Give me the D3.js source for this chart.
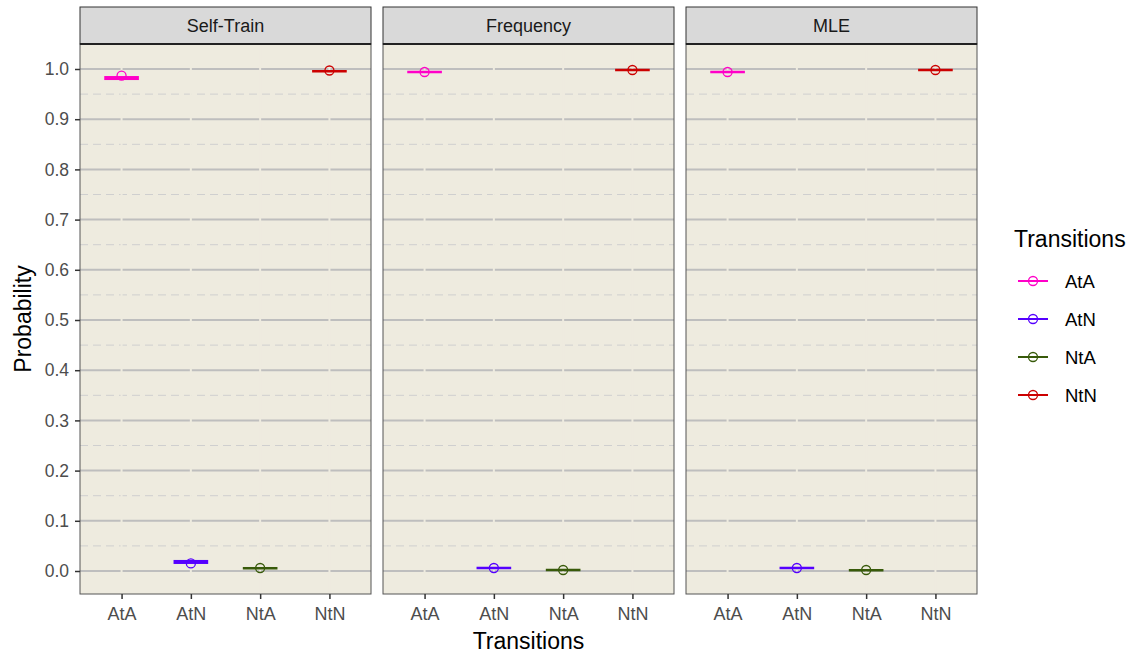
<!DOCTYPE html>
<html>
<head>
<meta charset="utf-8">
<script src="https://cdn.jsdelivr.net/npm/d3@7"></script>
<style>
  body { margin: 0; background: #fff; }
  text { font-family: "Liberation Sans", Arial, sans-serif; }
</style>
</head>
<body>
<svg id="chart" width="1132" height="656"></svg>
<script>
// data
let methods = ["Self-Train", "Frequency", "MLE"];
let transitions = ["AtA", "AtN", "NtA", "NtN"];
let colors = ["#ff00c8", "#5500ff", "#385a0a", "#cc0000"];
// box low / high and point per method, in transitions order
let selfTrainLow = [0.978, 0.014, 0.004, 0.994];
let selfTrainHigh = [0.986, 0.022, 0.007, 0.997];
let selfTrainPoint = [0.987, 0.015, 0.006, 0.997];
let frequencyLow = [0.993, 0.005, 0.001, 0.997];
let frequencyHigh = [0.995, 0.007, 0.003, 0.999];
let frequencyPoint = [0.994, 0.006, 0.002, 0.998];
let mleLow = [0.993, 0.005, 0.001, 0.997];
let mleHigh = [0.995, 0.007, 0.002, 0.999];
let mlePoint = [0.994, 0.006, 0.002, 0.998];
let yTicks = [0, 0.1, 0.2, 0.3, 0.4, 0.5, 0.6, 0.7, 0.8, 0.9, 1.0];
let yMinor = [0.05, 0.15, 0.25, 0.35, 0.45, 0.55, 0.65, 0.75, 0.85, 0.95];

let lows = [selfTrainLow, frequencyLow, mleLow];
let highs = [selfTrainHigh, frequencyHigh, mleHigh];
let points = [selfTrainPoint, frequencyPoint, mlePoint];

let svg = d3.select("#chart");
let panelBg = "#eeebdf";
let panelW = 291, panelGap = 12, panelLeft = 80;
let stripTop = 7, panelTop = 44, panelBottom = 594;
let font = "Liberation Sans, Arial, sans-serif";

let y = d3.scaleLinear().domain([0, 1]).range([571, 69]);
let color = d3.scaleOrdinal().domain(transitions).range(colors);

methods.forEach((m, mi) => {
  let x0 = panelLeft + mi * (panelW + panelGap);
  let x = d3.scalePoint().domain(transitions).range([x0, x0 + panelW]).padding(0.6);
  let step = x.step();
  let g = svg.append("g");

  // strip
  g.append("rect").attr("x", x0).attr("y", stripTop).attr("width", panelW).attr("height", panelTop - stripTop)
    .attr("fill", "#d9d9d9").attr("stroke", "#333").attr("stroke-width", 1);
  g.append("text").attr("x", x0 + panelW / 2).attr("y", panelTop - 12).attr("text-anchor", "middle")
    .attr("font-size", 18).attr("fill", "#1a1a1a").text(m);

  // panel
  g.append("rect").attr("x", x0).attr("y", panelTop).attr("width", panelW).attr("height", panelBottom - panelTop)
    .attr("fill", panelBg);

  g.selectAll(".minor").data(yMinor).join("line")
    .attr("x1", x0).attr("x2", x0 + panelW)
    .attr("y1", d => y(d)).attr("y2", d => y(d))
    .attr("stroke", "#cfcfcf").attr("stroke-width", 1).attr("stroke-dasharray", "8,5");
  g.selectAll(".major").data(yTicks).join("line")
    .attr("x1", x0).attr("x2", x0 + panelW)
    .attr("y1", d => y(d)).attr("y2", d => y(d))
    .attr("stroke", "#bebebe").attr("stroke-width", 2);
  // vertical grid in background colour (leaves small gaps)
  g.selectAll(".vgrid").data(transitions).join("line")
    .attr("x1", d => x(d)).attr("x2", d => x(d))
    .attr("y1", panelTop).attr("y2", panelBottom)
    .attr("stroke", panelBg).attr("stroke-width", 2);

  // crossbars
  let half = step * 0.25;
  transitions.forEach((t, ti) => {
    let lo = lows[mi][ti], hi = highs[mi][ti];
    let top = y(hi), bot = y(lo);
    let h = Math.max(bot - top, 2.5);
    g.append("rect").attr("x", x(t) - half).attr("y", (top + bot) / 2 - h / 2)
      .attr("width", half * 2).attr("height", h).attr("fill", color(t));
    g.append("circle").attr("cx", x(t)).attr("cy", y(points[mi][ti])).attr("r", 4.5)
      .attr("fill", "none").attr("stroke", color(t)).attr("stroke-width", 1.3);
  });

  g.append("rect").attr("x", x0).attr("y", panelTop).attr("width", panelW).attr("height", panelBottom - panelTop)
    .attr("fill", "none").attr("stroke", "#555").attr("stroke-width", 1);
  g.append("line").attr("x1", x0).attr("x2", x0 + panelW).attr("y1", panelTop).attr("y2", panelTop)
    .attr("stroke", "#222").attr("stroke-width", 2);

  // x axis
  let xa = g.append("g").attr("transform", `translate(0,${panelBottom})`)
    .call(d3.axisBottom(x).tickSize(5).tickPadding(8));
  xa.select(".domain").remove();
  xa.selectAll("line").attr("stroke", "#333").attr("stroke-width", 1.5);
  xa.selectAll("text").attr("font-size", 18).attr("fill", "#4d4d4d").attr("font-family", font);
});

// y axis
let ya = svg.append("g").attr("transform", `translate(${panelLeft},0)`)
  .call(d3.axisLeft(y).tickValues(yTicks).tickFormat(d3.format(".1f")).tickSize(5).tickPadding(6));
ya.select(".domain").remove();
ya.selectAll("line").attr("stroke", "#333").attr("stroke-width", 1.5);
ya.selectAll("text").attr("font-size", 17.5).attr("fill", "#4d4d4d").attr("font-family", font);

// axis titles
svg.append("text").attr("x", panelLeft + (3 * panelW + 2 * panelGap) / 2).attr("y", 649)
  .attr("text-anchor", "middle").attr("font-size", 23).attr("fill", "#000").text("Transitions");
svg.append("text").attr("transform", `translate(31,${(panelTop + panelBottom) / 2}) rotate(-90)`)
  .attr("text-anchor", "middle").attr("font-size", 23).attr("fill", "#000").text("Probability");

// legend
let lg = svg.append("g").attr("transform", "translate(1014,0)");
lg.append("text").attr("x", 0).attr("y", 247).attr("font-size", 23).attr("fill", "#000").text("Transitions");
transitions.forEach((t, i) => {
  let cy = 281 + i * 38;
  lg.append("line").attr("x1", 4).attr("x2", 34).attr("y1", cy).attr("y2", cy)
    .attr("stroke", color(t)).attr("stroke-width", 2);
  lg.append("circle").attr("cx", 19).attr("cy", cy).attr("r", 4.5)
    .attr("fill", "none").attr("stroke", color(t)).attr("stroke-width", 1.3);
  lg.append("text").attr("x", 51).attr("y", cy + 7).attr("font-size", 18.5).attr("fill", "#000").text(t);
});
</script>
</body>
</html>
